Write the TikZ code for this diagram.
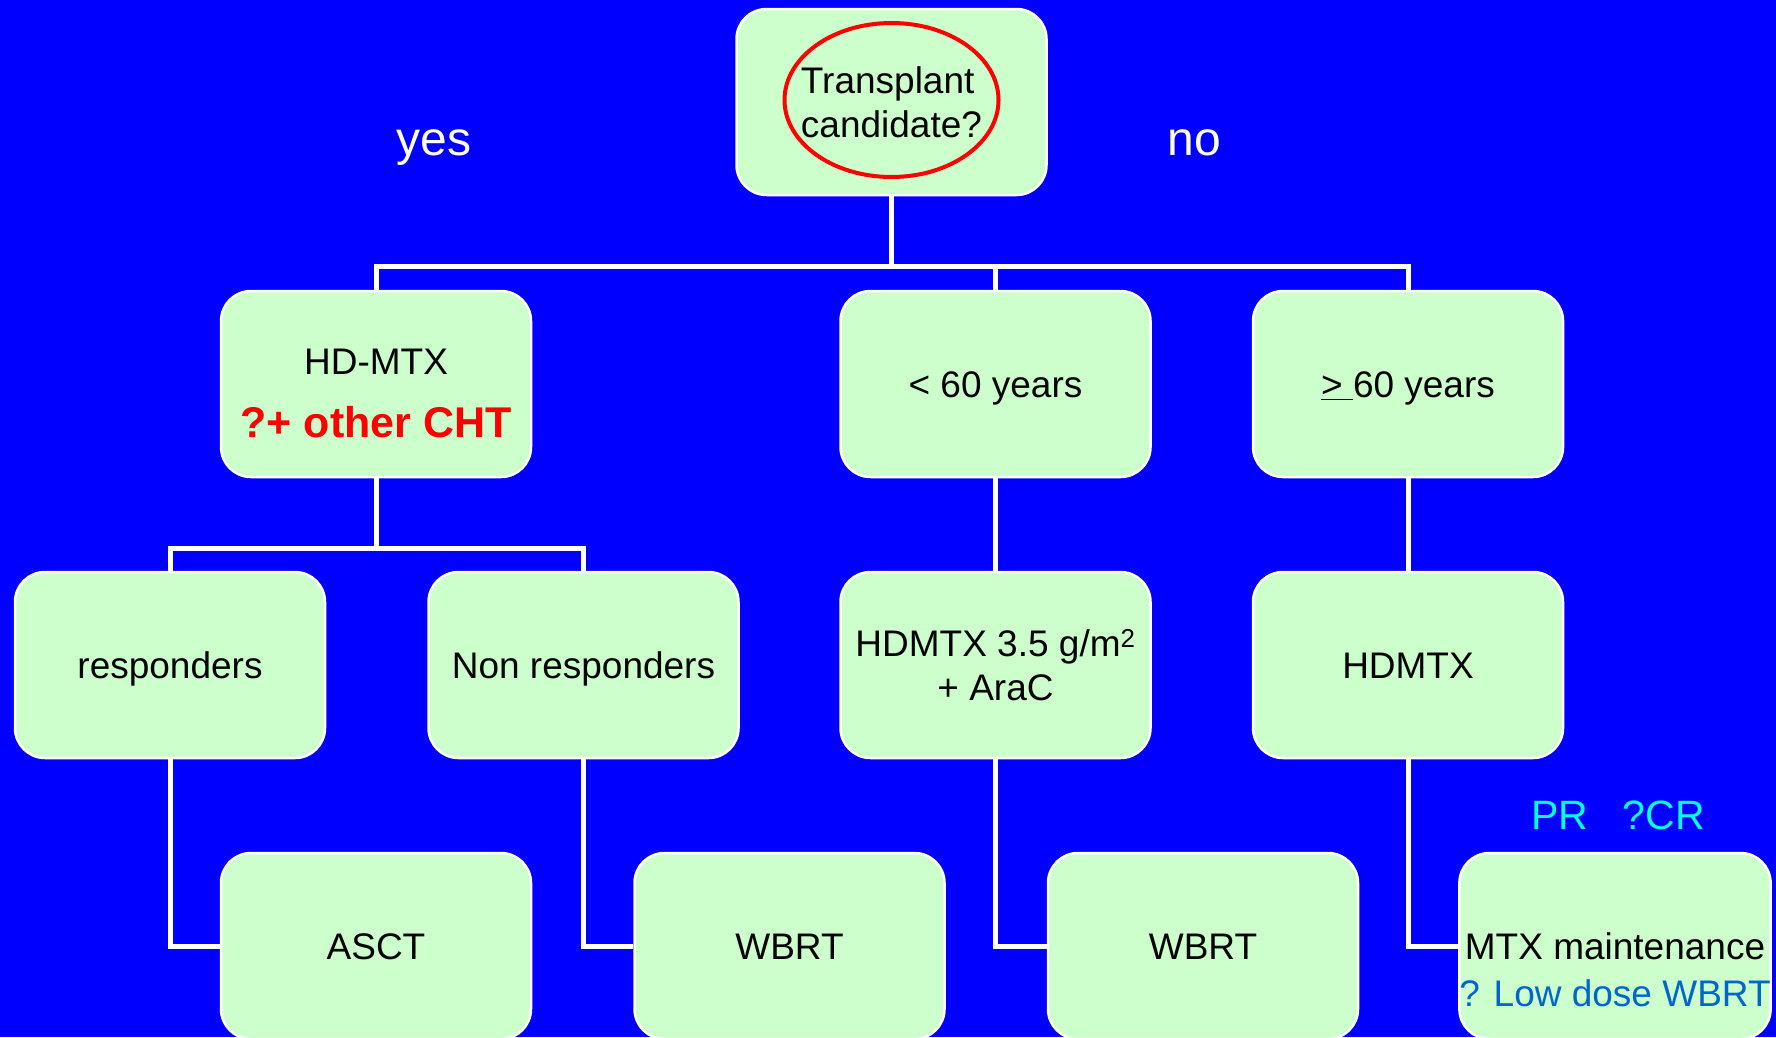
\documentclass[tikz,border=0pt]{standalone}
\usepackage{fontspec}
\setmainfont{Liberation Sans}
\definecolor{boxgreen}{RGB}{204,255,204}
\definecolor{bgblue}{RGB}{0,0,255}
\definecolor{lowblue}{RGB}{0,102,204}
\definecolor{cyanlbl}{RGB}{0,255,255}
\begin{document}
\begin{tikzpicture}[x=1pt,y=-1pt,
  box/.style={draw=white, line width=2.5pt, fill=boxgreen, rounded corners=30pt,
    minimum width=310pt, minimum height=186pt, inner sep=0pt, align=center,
    font=\fontsize{37}{44}\selectfont, text=black},
  oneline/.style={text height=33pt, text depth=6pt},
  conn/.style={draw=white, line width=5pt},
  lbl/.style={inner sep=0pt, text=white, font=\fontsize{48}{56}\selectfont, anchor=base}]
\fill[bgblue] (0,0) rectangle (1776,1037);
\useasboundingbox (0,0) rectangle (1776,1037);
\clip (0,0) rectangle (1776,1037);

% boxes
\node[box, align=left] (top) at (891.5,102) {Transplant\\candidate?};
\node[box] (hd) at (376,384) {\rule{0pt}{45pt}HD-MTX\\[19pt]{\fontsize{43}{50}\selectfont\bfseries\color{red}?+ other CHT}};
\node[box, oneline] (lt) at (995.5,384) {< 60 years};
\node[box, oneline] (ge) at (1408,384) {\underline{> }60 years};
\node[box, oneline] (resp) at (170,665) {responders};
\node[box, oneline] (nonresp) at (583.5,665) {Non responders};
\node[box] (hd35) at (995.5,665) {HDMTX 3.5 g/m\textsuperscript{2}\\+ AraC};
\node[box, oneline] (hdmtx) at (1408,665) {HDMTX};
\node[box, oneline] (asct) at (376,946) {ASCT};
\node[box, oneline] (wbrta) at (789.5,946) {WBRT};
\node[box, oneline] (wbrtb) at (1203,946) {WBRT};
\node[box] (mtx) at (1615,946) {\rule{0pt}{75pt}MTX maintenance\\[3pt]{\color{lowblue}? Low dose WBRT}};

% red ellipse around the question
\draw[red, line width=4pt] (891.5,100) ellipse [x radius=107, y radius=77];

% labels
\node[lbl] (yes) at (434,155) {yes};
\node[lbl] (no) at (1194,155) {no};
\node[inner sep=0pt, text=cyanlbl, font=\fontsize{41}{48}\selectfont] (prcr) at (1618,815) {PR\hspace{35pt}?CR};

% connectors
\coordinate (bus) at (891.5,266);
\draw[conn] (top.south) -- (bus);
\draw[conn] (hd.north) |- (bus) -| (ge.north);
\draw[conn] (lt.north) -- (lt.north |- bus);
\coordinate (bustwo) at (376,548);
\draw[conn] (hd.south) -- (bustwo);
\draw[conn] (resp.north) |- (bustwo) -| (nonresp.north);
\draw[conn] (lt.south) -- (hd35.north);
\draw[conn] (ge.south) -- (hdmtx.north);
\draw[conn] (resp.south) |- (asct.west);
\draw[conn] (nonresp.south) |- (wbrta.west);
\draw[conn] (hd35.south) |- (wbrtb.west);
\draw[conn] (hdmtx.south) |- (mtx.west);
\end{tikzpicture}
\end{document}
